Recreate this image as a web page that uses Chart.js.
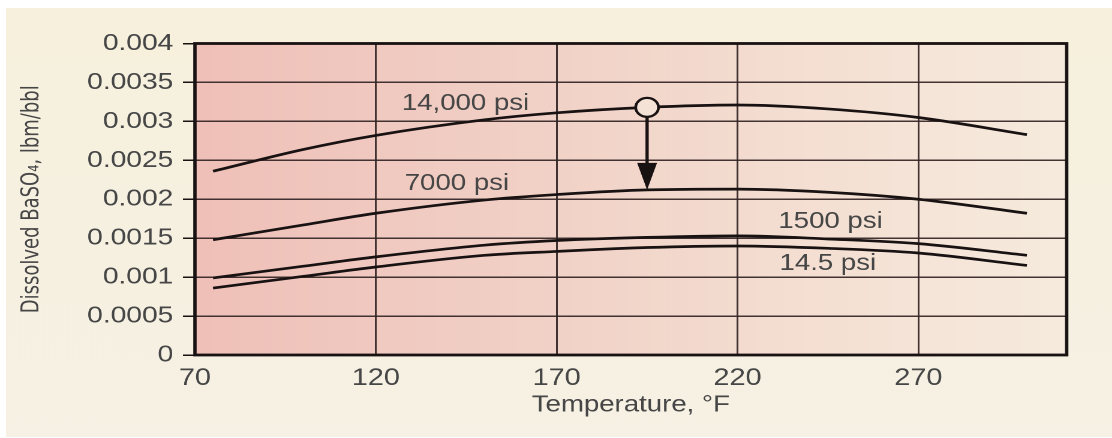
<!DOCTYPE html>
<html><head><meta charset="utf-8">
<script src="https://cdn.jsdelivr.net/npm/chart.js@4.4.0/dist/chart.umd.min.js"></script>
<style>
html,body{margin:0;padding:0;background:#fff;overflow:hidden;}
#wrap{width:927px;height:438px;transform:scaleX(1.1996);transform-origin:0 0;}
</style></head><body>
<div id="wrap"><canvas id="c" width="927" height="438"></canvas></div>
<script>
// ---- data ----
const temperatures = [75, 100, 120, 150, 170, 195, 220, 245, 270, 300];
const psi14000 = [0.00236, 0.00264, 0.00282, 0.00302, 0.00311, 0.00318, 0.00321, 0.00316, 0.00305, 0.00283];
const psi7000  = [0.00148, 0.00167, 0.00182, 0.00199, 0.00206, 0.00212, 0.00213, 0.00209, 0.00200, 0.00182];
const psi1500  = [0.00099, 0.00114, 0.00126, 0.00141, 0.00147, 0.00151, 0.00153, 0.00149, 0.00143, 0.00128];
const psi14_5  = [0.00086, 0.00101, 0.00113, 0.00128, 0.00133, 0.00138, 0.00140, 0.00137, 0.00131, 0.00115];
const seriesNames = ['14,000 psi', '7000 psi', '1500 psi', '14.5 psi'];
const xTickValues = [70, 120, 170, 220, 270];
const yTickValues = [0, 0.0005, 0.001, 0.0015, 0.002, 0.0025, 0.003, 0.0035, 0.004];
const yTickLabels = ['0', '0.0005', '0.001', '0.0015', '0.002', '0.0025', '0.003', '0.0035', '0.004'];
const markerTemp = [195];
const markerFrom = [0.00318];
const markerTo = [0.00212];

const S = 1.1996; // horizontal stretch of the reference
const INK = 'rgb(25,18,18)';
const GRID = 'rgba(50,36,36,0.92)';
const TXT = 'rgb(70,70,70)';
const FONT = '"Liberation Sans", Arial, sans-serif';
const NARROW = '"Liberation Sans Narrow", "DejaVu Sans Condensed", "Liberation Sans", Arial, sans-serif';

function pts(ys){ return temperatures.map((t,i)=>({x:t, y:ys[i]})); }
const curve = (name, ys) => ({label:name, data:pts(ys), borderColor:INK, borderWidth:2.7,
  pointRadius:0, fill:false, cubicInterpolationMode:'monotone'});

// label anchors (data coordinates: left x, baseline y)
const labelAnchors = [
  {x:127.2, y:0.003145}, {x:128, y:0.002118}, {x:231.3, y:0.00163}, {x:231.6, y:0.00109}
];

const bgPlugin = {
  id:'bg',
  beforeDraw(chart){
    const {ctx, width, height, chartArea:a} = chart;
    ctx.save();
    ctx.fillStyle = '#ffffff'; ctx.fillRect(0,0,width,height);
    const g0 = ctx.createLinearGradient(0,8,0,437);
    g0.addColorStop(0,'#f6f0dd'); g0.addColorStop(1,'#f6f1e4');
    ctx.fillStyle = g0; ctx.fillRect(6/S, 8, width, 437-8);
    const g = ctx.createLinearGradient(a.left,0,a.right,0);
    g.addColorStop(0,'#efc0b8'); g.addColorStop(0.35,'#f1cfc5');
    g.addColorStop(0.7,'#f4dfd2'); g.addColorStop(1,'#f6ebde');
    ctx.fillStyle = g; ctx.fillRect(a.left, a.top, a.right-a.left, a.bottom-a.top);
    ctx.restore();
  },
  afterDatasetsDraw(chart){
    const {ctx, chartArea:a, scales:{x,y}} = chart;
    ctx.save();
    // frame
    ctx.strokeStyle = INK; ctx.lineWidth = 2.8;
    ctx.strokeRect(a.left, a.top, a.right-a.left, a.bottom-a.top);
    // arrow
    const ax = x.getPixelForValue(markerTemp[0]);
    const y0 = y.getPixelForValue(markerFrom[0]) + 9;
    const y1 = y.getPixelForValue(markerTo[0]);
    const head = 27, hw = 8.3;
    ctx.strokeStyle = INK; ctx.lineWidth = 2.7;
    ctx.beginPath(); ctx.moveTo(ax, y0); ctx.lineTo(ax, y1-head+2); ctx.stroke();
    ctx.fillStyle = INK;
    ctx.beginPath(); ctx.moveTo(ax-hw, y1-head); ctx.lineTo(ax+hw, y1-head); ctx.lineTo(ax, y1); ctx.closePath(); ctx.fill();
    // series labels
    ctx.fillStyle = TXT; ctx.font = '23px ' + FONT; ctx.textAlign = 'left'; ctx.textBaseline = 'alphabetic';
    seriesNames.forEach((n,i)=>{
      ctx.fillText(n, x.getPixelForValue(labelAnchors[i].x), y.getPixelForValue(labelAnchors[i].y));
    });
    ctx.restore();
  }
};

new Chart(document.getElementById('c'), {
  type:'line',
  data:{ datasets:[
    {label:'marker', data:markerTemp.map((t,i)=>({x:t, y:markerFrom[i]})), showLine:false,
     pointStyle:'circle', pointRadius:9.5, pointBackgroundColor:'#f5e2d6', pointBorderColor:INK, pointBorderWidth:2.3},
    curve(seriesNames[0], psi14000),
    curve(seriesNames[1], psi7000),
    curve(seriesNames[2], psi1500),
    curve(seriesNames[3], psi14_5)
  ]},
  options:{
    responsive:false, animation:false, devicePixelRatio:2,
    layout:{padding:{top:43.5, right:37.8, bottom:0, left:0}},
    plugins:{legend:{display:false}, tooltip:{enabled:false}},
    scales:{
      x:{type:'linear', min:70, max:311,
        afterBuildTicks(s){ s.ticks = xTickValues.map(v=>({value:v})); },
        afterFit(s){ s.height = 83; },
        grid:{color:GRID, lineWidth:1.5, drawTicks:false},
        border:{display:false},
        ticks:{color:TXT, font:{family:FONT, size:24}, padding:9, maxRotation:0, autoSkip:false},
        title:{display:true, text:'Temperature, °F', color:TXT, font:{family:FONT, size:23}, padding:{top:0, bottom:19}}
      },
      y:{type:'linear', min:0, max:0.004,
        afterBuildTicks(s){ s.ticks = yTickValues.map(v=>({value:v})); },
        afterFit(s){ s.width = 162.5; },
        grid:{color:GRID, lineWidth:1.5, tickLength:10, tickColor:INK},
        border:{display:false},
        ticks:{color:TXT, font:{family:FONT, size:23.5}, padding:8,
          callback:(v)=>{ const i = yTickValues.findIndex(t=>Math.abs(t-v)<1e-9); return i>=0 ? yTickLabels[i] : ''; }},
        title:{display:true, text:'Dissolved BaSO₄, lbm/bbl', color:TXT, font:{family:NARROW, size:20}, padding:{top:15, bottom:0}}
      }
    }
  },
  plugins:[bgPlugin]
});
</script>
</body></html>
